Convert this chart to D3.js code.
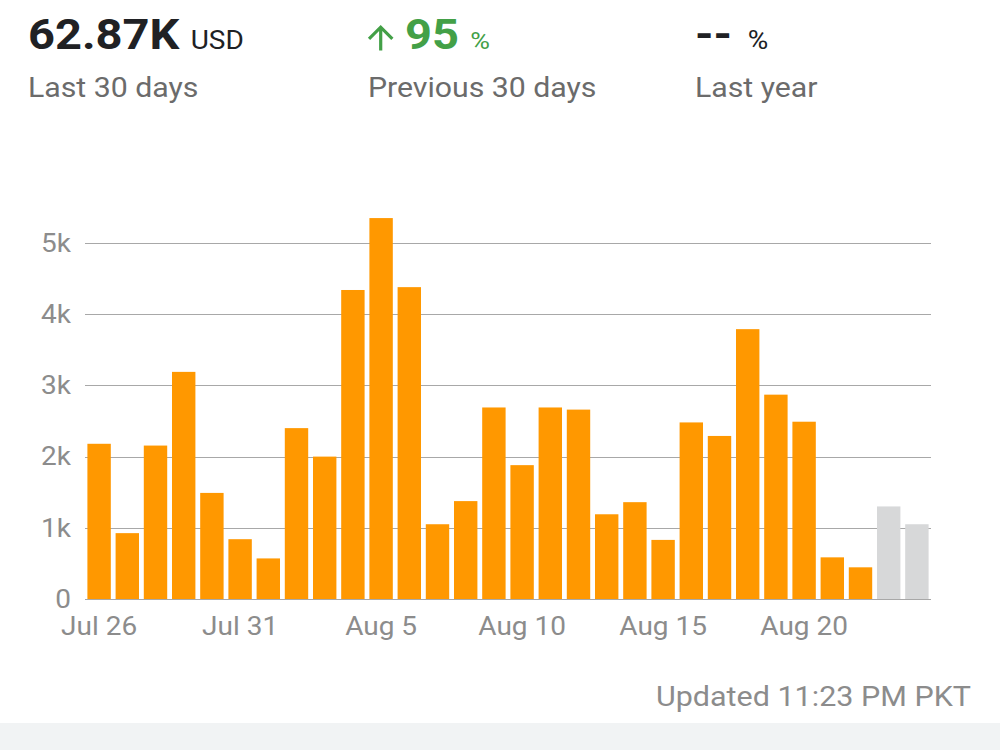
<!DOCTYPE html>
<html>
<head>
<meta charset="utf-8">
<script src="https://cdn.jsdelivr.net/npm/d3@7"></script>
<style>
  html, body { margin: 0; padding: 0; background: #fff; }
  svg { display: block; font-family: Roboto, "Noto Sans", sans-serif; }
</style>
</head>
<body>
<svg id="chart" width="1000" height="750"></svg>
<script>
// -----------------------------
//  DATA
// -----------------------------
const days = [
    "Jul 26", "Jul 27", "Jul 28", "Jul 29", "Jul 30", "Jul 31",
    "Aug 1", "Aug 2", "Aug 3", "Aug 4", "Aug 5", "Aug 6", "Aug 7",
    "Aug 8", "Aug 9", "Aug 10", "Aug 11", "Aug 12", "Aug 13", "Aug 14",
    "Aug 15", "Aug 16", "Aug 17", "Aug 18", "Aug 19", "Aug 20", "Aug 21",
    "Aug 22", "Aug 23", "Aug 24"
];
const revenue = [
    2180, 925, 2155, 3190, 1490, 840, 570, 2400, 2000, 4340, 5350, 4380, 1050,
    1375, 2690, 1880, 2690, 2660, 1190, 1360, 830, 2480, 2290, 3790, 2870,
    2490, 585, 445, 1300, 1050
];
// last two days are still estimated (drawn grey)
const estimated = days.slice(-2);

const xTickDays = ["Jul 26", "Jul 31", "Aug 5", "Aug 10", "Aug 15", "Aug 20"];
const yTicks = [0, 1000, 2000, 3000, 4000, 5000];
const yTickLabels = ["0", "1k", "2k", "3k", "4k", "5k"];

// header numbers
const summary = [
    { value: "62.87K", unit: "USD", label: "Last 30 days" },
    { value: "95", unit: "%", label: "Previous 30 days", up: true },
    { value: "--", unit: "%", label: "Last year" }
];
const updatedText = "Updated 11:23 PM PKT";

// -----------------------------
//  SETUP
// -----------------------------
const svg = d3.select("#chart");
const W = 1000, H = 750;

const orange = "#ff9800";
const greyBar = "#d7d8d9";
const grid = "#a8a8a8";
const muted = "#6b6b6b";
const axisText = "#8c8c8c";
const green = "#43a047";

// the screenshot's type is a bit wider than Roboto, stretch it horizontally
const stretch = 1.12;

const x = d3.scaleBand()
    .domain(days)
    .range([85, 931])
    .paddingInner(0.17)
    .paddingOuter(0.085);

const y = d3.scaleLinear().domain([0, 5000]).range([599, 243]);

function place(sel, px, py, s) {
    return sel.attr("transform", `translate(${px},${py}) scale(${s || stretch},1)`);
}

// -----------------------------
//  HEADER
// -----------------------------
const header = svg.append("g").attr("class", "header");
const colX = [28, 405, 695];

summary.forEach((s, i) => {
    const t = place(header.append("text"), colX[i], 48.5);
    t.append("tspan")
        .attr("fill", s.up ? green : "#202124")
        .attr("font-size", 42)
        .attr("font-weight", 700)
        .text(s.value);
    t.append("tspan")
        .attr("fill", s.up ? green : "#202124")
        .attr("font-size", s.up ? 24 : 25)
        .attr("dx", s.value === "--" ? 14 : 10)
        .text(s.unit);

    if (s.up) {
        // material "arrow_upward" icon
        header.append("path")
            .attr("d", "M4 12l1.41 1.41L11 7.83V20h2V7.83l5.58 5.59L20 12l-8-8-8 8z")
            .attr("transform", "translate(361.5,18.5) scale(1.6)")
            .attr("fill", green);
    }

    place(header.append("text"), i === 1 ? 368 : colX[i], 97, 1.08)
        .attr("font-size", 28)
        .attr("fill", muted)
        .text(s.label);
});

// -----------------------------
//  GRID + Y AXIS
// -----------------------------
const gridG = svg.append("g").attr("class", "grid");
gridG.selectAll("line")
    .data(yTicks)
    .enter()
    .append("line")
    .attr("x1", 85)
    .attr("x2", 931)
    .attr("y1", (d) => Math.round(y(d)) + 0.5)
    .attr("y2", (d) => Math.round(y(d)) + 0.5)
    .attr("stroke", grid)
    .attr("stroke-width", 1);

gridG.selectAll("text")
    .data(yTicks)
    .enter()
    .append("text")
    .attr("transform", (d) => `translate(71,${y(d)}) scale(${stretch},1)`)
    .attr("dy", "0.35em")
    .attr("text-anchor", "end")
    .attr("font-size", 25)
    .attr("fill", axisText)
    .text((d, i) => yTickLabels[i]);

// -----------------------------
//  BARS
// -----------------------------
svg.append("g")
    .attr("class", "bars")
    .selectAll("rect")
    .data(days.map((d, i) => ({ day: d, value: revenue[i] })))
    .enter()
    .append("rect")
    .attr("x", (d) => x(d.day))
    .attr("width", x.bandwidth())
    .attr("y", (d) => y(d.value))
    .attr("height", (d) => y(0) - y(d.value))
    .attr("fill", (d) => (estimated.includes(d.day) ? greyBar : orange));

// baseline on top of bars
svg.append("line")
    .attr("x1", 85)
    .attr("x2", 931)
    .attr("y1", Math.round(y(0)) + 0.5)
    .attr("y2", Math.round(y(0)) + 0.5)
    .attr("stroke", grid);

// -----------------------------
//  X AXIS LABELS
// -----------------------------
svg.append("g")
    .attr("class", "x-labels")
    .selectAll("text")
    .data(xTickDays)
    .enter()
    .append("text")
    .attr("transform", (d) => `translate(${x(d) + x.bandwidth() / 2},635) scale(${stretch},1)`)
    .attr("text-anchor", "middle")
    .attr("font-size", 25)
    .attr("fill", axisText)
    .text((d) => d);

// -----------------------------
//  FOOTER
// -----------------------------
place(svg.append("text"), 971, 706, 1.13)
    .attr("text-anchor", "end")
    .attr("font-size", 27)
    .attr("fill", axisText)
    .text(updatedText);

svg.append("rect")
    .attr("x", 0)
    .attr("y", 723)
    .attr("width", W)
    .attr("height", H - 723)
    .attr("fill", "#f1f3f4");
</script>
</body>
</html>
